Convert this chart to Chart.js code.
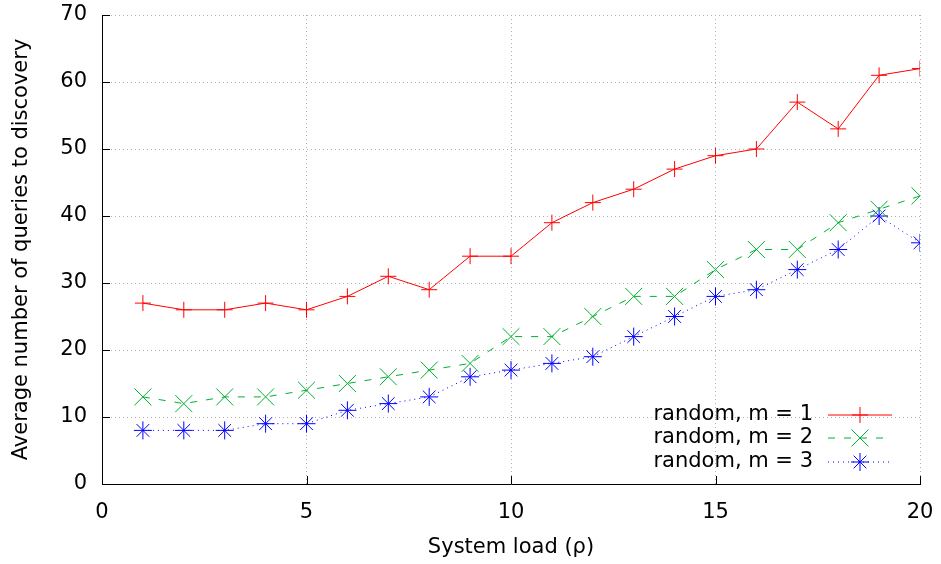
<!DOCTYPE html>
<html>
<head>
<meta charset="utf-8">
<script src="https://cdn.jsdelivr.net/npm/chart.js@4"></script>
<style>
  html, body { margin: 0; padding: 0; background: #fff; }
  #wrap { width: 941px; height: 564px; }
</style>
</head>
<body>
<div id="wrap"><canvas id="loadChart"></canvas></div>
<script>
const loads = [1, 2, 3, 4, 5, 6, 7, 8, 9, 10, 11, 12, 13, 14, 15, 16, 17, 18, 19, 20];
const randomM1 = [27, 26, 26, 27, 26, 28, 31, 29, 34, 34, 39, 42, 44, 47, 49, 50, 57, 53, 61, 62];
const randomM2 = [13, 12, 13, 13, 14, 15, 16, 17, 18, 22, 22, 25, 28, 28, 32, 35, 35, 39, 41, 43];
const randomM3 = [8, 8, 8, 9, 9, 11, 12, 13, 16, 17, 18, 19, 22, 25, 28, 29, 32, 35, 40, 36];
const seriesNames = ['random, m = 1', 'random, m = 2', 'random, m = 3'];

const FONT = "'DejaVu Sans', sans-serif";
const FONT_SIZE = 21;

function toPoints(values) {
  return values.map((v, i) => ({ x: loads[i], y: v }));
}

// gnuplot-style inward ticks on left and bottom axes
const innerTicks = {
  id: 'innerTicks',
  afterDatasetsDraw(chart) {
    const ctx = chart.ctx;
    const area = chart.chartArea;
    const xs = chart.scales.x, ys = chart.scales.y;
    ctx.save();
    ctx.strokeStyle = '#000';
    ctx.lineWidth = 1;
    ctx.beginPath();
    xs.ticks.forEach(t => {
      const px = Math.round(xs.getPixelForValue(t.value)) + 0.5;
      ctx.moveTo(px, area.bottom);
      ctx.lineTo(px, area.bottom - 8);
    });
    ys.ticks.forEach(t => {
      const py = Math.round(ys.getPixelForValue(t.value)) + 0.5;
      ctx.moveTo(area.left, py);
      ctx.lineTo(area.left + 8, py);
    });
    ctx.stroke();
    ctx.restore();
  }
};

// gnuplot-style key inside the plot, bottom right
const keyBox = {
  id: 'keyBox',
  afterDatasetsDraw(chart) {
    const ctx = chart.ctx;
    const area = chart.chartArea;
    const textRight = area.right - 107;
    const lineStart = area.right - 92;
    const lineEnd = area.right - 28;
    const rowY = [area.bottom - 69, area.bottom - 46, area.bottom - 22];
    ctx.save();
    ctx.font = FONT_SIZE + 'px ' + FONT;
    ctx.textAlign = 'right';
    ctx.textBaseline = 'middle';
    chart.data.datasets.forEach((ds, i) => {
      const y = rowY[i];
      ctx.fillStyle = '#000';
      ctx.fillText(ds.label, textRight, y);
      ctx.strokeStyle = ds.borderColor;
      ctx.lineWidth = 1;
      ctx.setLineDash(ds.borderDash || []);
      ctx.beginPath();
      ctx.moveTo(lineStart, y);
      ctx.lineTo(lineEnd, y);
      ctx.stroke();
      ctx.setLineDash([]);
      Chart.helpers.drawPoint(ctx, {
        pointStyle: ds.pointStyle,
        radius: ds.pointRadius,
        borderWidth: 1
      }, (lineStart + lineEnd) / 2, y);
    });
    ctx.restore();
  }
};

new Chart(document.getElementById('loadChart'), {
  type: 'line',
  data: {
    datasets: [
      {
        label: seriesNames[0],
        data: toPoints(randomM1),
        borderColor: '#ff0000',
        backgroundColor: '#ff0000',
        borderWidth: 1,
        pointStyle: 'cross',
        pointRadius: 8,
        pointBorderWidth: 1,
        pointBorderColor: '#ff0000'
      },
      {
        label: seriesNames[1],
        data: toPoints(randomM2),
        borderColor: '#00b030',
        backgroundColor: '#00b030',
        borderWidth: 1,
        borderDash: [7, 9],
        pointStyle: 'crossRot',
        pointRadius: 12,
        pointBorderWidth: 1,
        pointBorderColor: '#00b030'
      },
      {
        label: seriesNames[2],
        data: toPoints(randomM3),
        borderColor: '#0000ff',
        backgroundColor: '#0000ff',
        borderWidth: 1,
        borderDash: [1, 4],
        pointStyle: 'star',
        pointRadius: 9,
        pointBorderWidth: 1,
        pointBorderColor: '#0000ff'
      }
    ]
  },
  options: {
    responsive: true,
    maintainAspectRatio: false,
    animation: false,
    layout: { padding: { top: 15, right: 21, left: 0, bottom: 0 } },
    plugins: {
      legend: { display: false },
      tooltip: { enabled: false }
    },
    scales: {
      x: {
        type: 'linear',
        min: 0,
        max: 20,
        afterFit(scale) {
          scale.height = 80;
          scale.paddingLeft = 0;
          scale.paddingRight = 0;
        },
        ticks: { stepSize: 5, color: '#000', font: { family: FONT, size: FONT_SIZE }, padding: 16 },
        grid: { color: '#b0b0b0', lineWidth: 1, drawTicks: false },
        border: { display: true, color: '#000', width: 1, dash: [1, 3] },
        title: { display: true, text: 'System load (ρ)', color: '#000', font: { family: FONT, size: FONT_SIZE }, padding: { top: 4, bottom: 4 } }
      },
      y: {
        min: 0,
        max: 70,
        afterFit(scale) {
          scale.width = 102;
          scale.paddingTop = 0;
          scale.paddingBottom = 0;
        },
        ticks: { stepSize: 10, color: '#000', font: { family: FONT, size: FONT_SIZE }, padding: 15 },
        grid: { color: '#b0b0b0', lineWidth: 1, drawTicks: false },
        border: { display: true, color: '#000', width: 1, dash: [1, 3] },
        title: { display: true, text: 'Average number of queries to discovery', color: '#000', font: { family: FONT, size: FONT_SIZE }, padding: { top: 9, bottom: 0 } }
      }
    }
  },
  plugins: [innerTicks, keyBox]
});
</script>
</body>
</html>
